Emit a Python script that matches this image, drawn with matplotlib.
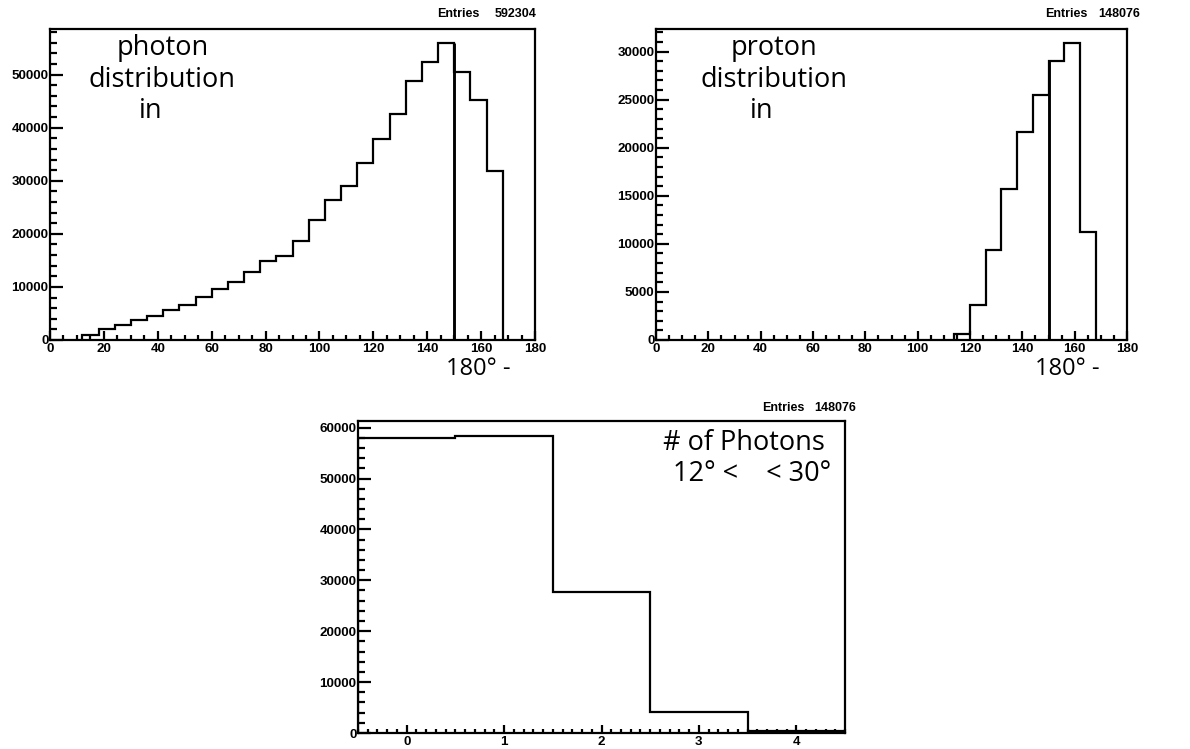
import numpy as np
import matplotlib
matplotlib.use("Agg")
from matplotlib import pyplot as plt
from matplotlib.ticker import MultipleLocator, FormatStrFormatter

# photon angle histogram (bin edges in degrees)
photon_edges = [12, 18, 24, 30, 36, 42, 48, 54, 60, 66, 72, 78, 84, 90, 96, 102,
                108, 114, 120, 126, 132, 138, 144, 150, 156, 162, 168]
photon_counts = [900, 2060, 2800, 3700, 4500, 5600, 6600, 8100, 9600, 11000, 12900,
                 14900, 15900, 18600, 22700, 26400, 29100, 33300, 37800, 42600,
                 48750, 52400, 55900, 50500, 45200, 31800]
photon_entries = "592304"

# proton angle histogram
proton_edges = [114, 120, 126, 132, 138, 144, 150, 156, 162, 168]
proton_counts = [590, 3620, 9400, 15700, 21600, 25450, 29070, 30860, 11200]
proton_entries = "148076"

# number of photons per event
nphot_bins = [0, 1, 2, 3, 4]
nphot_counts = [57900, 58400, 27800, 4160, 320]
nphot_entries = "148076"

cut_angle = 150

W, H = 1190, 749
LW = 1.6
tick_font = dict(family="Liberation Sans", weight="bold", size=9.6)
entries_font = dict(family="Liberation Sans", weight="bold", size=9)
big_font = dict(family="Open Sans", size=19.5)
xlab_font = dict(family="Open Sans", size=17)


def box(l, r, t, b):
    return [l / W, 1 - b / H, (r - l) / W, (b - t) / H]


def style(ax, xmaj, xmin, ymaj, ymin, xlen=(9, 5), ylen=(13, 7)):
    for s in ax.spines.values():
        s.set_linewidth(LW)
    ax.xaxis.set_major_locator(MultipleLocator(xmaj))
    ax.xaxis.set_minor_locator(MultipleLocator(xmin))
    ax.yaxis.set_major_locator(MultipleLocator(ymaj))
    ax.yaxis.set_minor_locator(MultipleLocator(ymin))
    ax.yaxis.set_major_formatter(FormatStrFormatter("%d"))
    ax.tick_params(axis="x", which="major", direction="in", length=xlen[0] * 0.72,
                   width=LW, pad=2)
    ax.tick_params(axis="x", which="minor", direction="in", length=xlen[1] * 0.72,
                   width=LW)
    ax.tick_params(axis="y", which="major", direction="in", length=ylen[0] * 0.72,
                   width=LW, pad=1)
    ax.tick_params(axis="y", which="minor", direction="in", length=ylen[1] * 0.72,
                   width=LW)
    for lab in ax.get_xticklabels() + ax.get_yticklabels():
        lab.set_fontfamily(tick_font["family"])
        lab.set_fontweight(tick_font["weight"])
        lab.set_fontsize(tick_font["size"])


def cut_line(ax, edges, counts):
    i = edges.index(cut_angle)
    h = max(counts[i - 1], counts[i])
    ax.vlines(cut_angle, 0, h, color="black", lw=LW * 1.3)


fig = plt.figure(figsize=(W / 100, H / 100), dpi=100)

# --- photon distribution
ax1 = fig.add_axes(box(50, 535, 29, 340))
ax1.stairs(photon_counts, photon_edges, color="black", lw=LW)
cut_line(ax1, photon_edges, photon_counts)
ax1.set_xlim(0, 180)
ax1.set_ylim(0, 58600)
style(ax1, 20, 5, 10000, 2000)
ax1.text(0.232, 0.94, "photon", transform=ax1.transAxes, ha="center", va="center", **big_font)
ax1.text(0.230, 0.835, "distribution", transform=ax1.transAxes, ha="center", va="center", **big_font)
ax1.text(0.207, 0.735, "in", transform=ax1.transAxes, ha="center", va="center", **big_font)
fig.text(478 / W, 1 - 369 / H, "180° -", ha="center", va="center", **xlab_font)
fig.text(437 / W, 1 - 14 / H, "Entries", ha="left", va="center", **entries_font)
fig.text(537 / W, 1 - 14 / H, photon_entries, ha="right", va="center", **entries_font)

# --- proton distribution
ax2 = fig.add_axes(box(656, 1127, 29, 340))
ax2.stairs(proton_counts, proton_edges, color="black", lw=LW)
cut_line(ax2, proton_edges, proton_counts)
ax2.set_xlim(0, 180)
ax2.set_ylim(0, 32350)
style(ax2, 20, 5, 5000, 1000)
ax2.text(0.25, 0.94, "proton", transform=ax2.transAxes, ha="center", va="center", **big_font)
ax2.text(0.25, 0.835, "distribution", transform=ax2.transAxes, ha="center", va="center", **big_font)
ax2.text(0.225, 0.735, "in", transform=ax2.transAxes, ha="center", va="center", **big_font)
fig.text(1067 / W, 1 - 369 / H, "180° -", ha="center", va="center", **xlab_font)
fig.text(1045 / W, 1 - 14 / H, "Entries", ha="left", va="center", **entries_font)
fig.text(1140 / W, 1 - 14 / H, proton_entries, ha="right", va="center", **entries_font)

# --- number of photons
ax3 = fig.add_axes(box(358, 845, 421, 733))
nphot_edges = [b - 0.5 for b in nphot_bins] + [nphot_bins[-1] + 0.5]
ax3.stairs(nphot_counts, nphot_edges, color="black", lw=LW)
ax3.set_xlim(-0.5, 4.5)
ax3.set_ylim(0, 61300)
style(ax3, 1, 0.1, 10000, 2000, xlen=(8, 4))
ax3.text(0.958, 0.93, "# of Photons", transform=ax3.transAxes, ha="right", va="center", **big_font)
ax3.text(0.972, 0.83, "12° <    < 30°", transform=ax3.transAxes, ha="right", va="center", **big_font)
fig.text(762 / W, 1 - 408 / H, "Entries", ha="left", va="center", **entries_font)
fig.text(856 / W, 1 - 408 / H, nphot_entries, ha="right", va="center", **entries_font)

fig.savefig("out.png", dpi=100)
